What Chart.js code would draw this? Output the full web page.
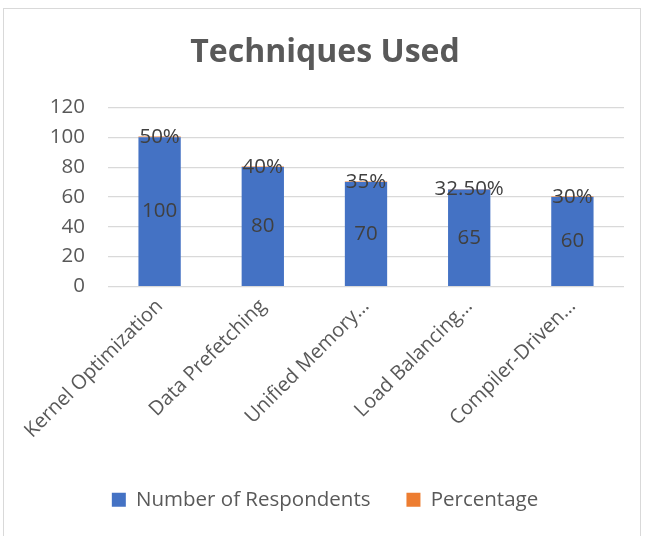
<!DOCTYPE html>
<html>
<head>
<meta charset="utf-8">
<script src="https://cdn.jsdelivr.net/npm/chart.js@4.4.1/dist/chart.umd.min.js"></script>
<style>
  html, body { margin: 0; padding: 0; background: #fff; }
  #frame {
    position: absolute; left: 3px; top: 8px; width: 638px; height: 540px;
    border: 1.5px solid #d9d9d9; box-sizing: border-box;
  }
  #wrap { position: absolute; left: 0; top: 0; width: 649px; height: 536px; }
</style>
</head>
<body>
<div id="frame"></div>
<div id="wrap"><canvas id="techChart" width="649" height="536"></canvas></div>
<script>
// values
const techniques = ['Kernel Optimization', 'Data Prefetching', 'Unified Memory…', 'Load Balancing…', 'Compiler-Driven…'];
const respondents = [100, 80, 70, 65, 60];
const percentage = [0.5, 0.4, 0.35, 0.325, 0.3];
const percentLabels = ['50%', '40%', '35%', '32.50%', '30%'];
const yTicks = [0, 20, 40, 60, 80, 100, 120];

const textGrey = '#595959';
const labelGrey = '#404040';
const fontFamily = '"Open Sans", "Liberation Sans", sans-serif';

// draws the numbers on the bars like Excel data labels
const barLabels = {
  id: 'barLabels',
  afterDatasetsDraw(chart) {
    const ctx = chart.ctx;
    ctx.save();
    ctx.font = '20.5px ' + fontFamily;
    ctx.fillStyle = labelGrey;
    ctx.textAlign = 'center';
    ctx.textBaseline = 'middle';
    chart.data.datasets.forEach((ds, di) => {
      const meta = chart.getDatasetMeta(di);
      meta.data.forEach((bar, i) => {
        const text = di === 0 ? String(ds.data[i]) : percentLabels[i];
        ctx.fillText(text, bar.x, (bar.y + bar.base) / 2);
      });
    });
    ctx.restore();
  }
};

document.addEventListener('DOMContentLoaded', () => {
  const canvas = document.getElementById('techChart').getContext('2d');

  new Chart(canvas, {
    type: 'bar',
    data: {
      labels: techniques,
      datasets: [{
        label: 'Number of Respondents',
        data: respondents,
        backgroundColor: '#4472C4',
        categoryPercentage: 1,
        barPercentage: 0.41
      }, {
        label: 'Percentage',
        data: percentage,
        backgroundColor: '#ED7D31',
        categoryPercentage: 1,
        barPercentage: 0.41
      }]
    },
    options: {
      responsive: false,
      animation: false,
      layout: { padding: { left: 26, right: 25, top: 0, bottom: 16 } },
      plugins: {
        tooltip: { enabled: false },
        title: {
          display: true,
          text: 'Techniques Used',
          color: textGrey,
          font: { family: fontFamily, size: 32, weight: 'bold' },
          padding: { top: 34, bottom: 35 }
        },
        legend: {
          display: true,
          position: 'bottom',
          labels: {
            color: textGrey,
            font: { family: fontFamily, size: 20.5 },
            boxWidth: 14,
            boxHeight: 14,
            padding: 36
          }
        }
      },
      scales: {
        x: {
          stacked: true,
          grid: { display: false, drawTicks: false },
          border: { display: false },
          ticks: {
            color: textGrey,
            font: { family: fontFamily, size: 20 },
            maxRotation: 45,
            minRotation: 45,
            autoSkip: false,
            padding: 8
          },
          afterFit(scale) { scale.height = 167; }
        },
        y: {
          stacked: true,
          min: yTicks[0],
          max: yTicks[yTicks.length - 1],
          afterBuildTicks(scale) { scale.ticks = yTicks.map(v => ({ value: v })); },
          grid: { color: '#d9d9d9', lineWidth: 1.2, drawTicks: false },
          border: { display: false },
          ticks: {
            color: textGrey,
            font: { family: fontFamily, size: 20.5 },
            padding: 23
          },
          afterFit(scale) { scale.width = 82; }
        }
      }
    },
    plugins: [barLabels]
  });
});
</script>
</body>
</html>
